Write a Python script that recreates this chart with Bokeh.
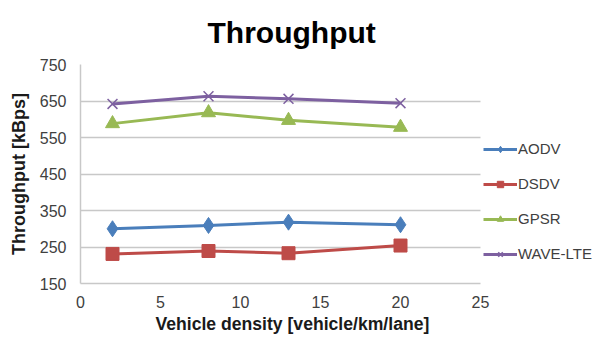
from bokeh.plotting import figure
from bokeh.models import Range1d, FixedTicker, Legend, LegendItem, Title
from bokeh.embed import file_html
from bokeh.resources import INLINE

density = [2, 8, 13, 20]
aodv = [300, 309, 318, 311]
dsdv = [231, 239, 233, 254]
gpsr = [588, 618, 597, 578]
wave_lte = [642, 663, 656, 644]
x_ticks = [0, 5, 10, 15, 20, 25]
y_ticks = [150, 250, 350, 450, 550, 650, 750]
x_bounds = (0, 25)

FONT = "Liberation Sans"

# frame spans the legend region too; axis and grid are bounded to 0..25
x_end = 25 * (595 - 80) / 400.0
p = figure(width=595, height=348, output_backend="svg", toolbar_location=None,
           x_range=Range1d(0, x_end), y_range=Range1d(150, 750),
           min_border_left=80, min_border_right=0, min_border_top=64, min_border_bottom=65,
           title="Throughput")
p.title.align = "left"
p.title.offset = 127
p.title.standoff = 28
p.title.vertical_align = "top"
p.title.text_font = FONT
p.title.text_font_size = "30px"
p.title.text_font_style = "bold"
p.title.text_color = "black"
p.outline_line_color = None
p.background_fill_color = "white"

p.xaxis.ticker = FixedTicker(ticks=x_ticks)
p.yaxis.ticker = FixedTicker(ticks=y_ticks)
p.xaxis.bounds = x_bounds
p.xgrid.grid_line_color = None
p.ygrid.grid_line_color = "#c8c8c8"
p.ygrid.grid_line_width = 1.5
p.ygrid.cross_bounds = x_bounds

for ax in (p.xaxis[0], p.yaxis[0]):
    ax.axis_line_color = "#c8c8c8"
    ax.axis_line_width = 1.5
    ax.major_tick_line_color = None
    ax.minor_tick_line_color = None
    ax.major_tick_out = 0
    ax.major_tick_in = 0
    ax.major_label_text_font = FONT
    ax.major_label_text_font_size = "16px"
    ax.major_label_text_color = "#404040"
    ax.axis_label_text_font = FONT
    ax.axis_label_text_font_size = "18px"
    ax.axis_label_text_font_style = "bold"
    ax.axis_label_text_color = "#1a1a1a"
p.yaxis.axis_label = "Throughput [kBps]"
p.xaxis.major_label_standoff = 12
p.yaxis.major_label_standoff = 14
p.yaxis.axis_label_standoff = 8

xlabel = Title(text="Vehicle density [vehicle/km/lane]", align="left", offset=75,
               text_font=FONT, text_font_size="17.6px", text_font_style="bold",
               text_color="#1a1a1a", standoff=2)
p.add_layout(xlabel, "below")

series = [
    ("AODV", aodv, "#4a7ebb", "diamond", 16),
    ("DSDV", dsdv, "#be4b48", "square", 13),
    ("GPSR", gpsr, "#98b954", "triangle", 14),
    ("WAVE-LTE", wave_lte, "#7d60a0", "x", 14),
]
items = []
for name, vals, col, mk, sz in series:
    l = p.line(density, vals, line_color=col, line_width=3)
    if mk == "x":
        s = p.scatter(density, vals, marker=mk, size=sz, line_color=col, line_width=1.5)
    else:
        s = p.scatter(density, vals, marker=mk, size=sz, fill_color=col, line_color=col)
    items.append(LegendItem(label=name, renderers=[l, s]))

legend = Legend(items=items, location=(403, 21), border_line_color=None,
                background_fill_alpha=0, label_text_font=FONT, label_text_font_size="15px",
                label_text_color="#404040", glyph_width=34, glyph_height=16,
                label_standoff=1, spacing=18, padding=0, margin=0)
p.add_layout(legend, "center")

open("out.html", "w").write(file_html(p, INLINE))
